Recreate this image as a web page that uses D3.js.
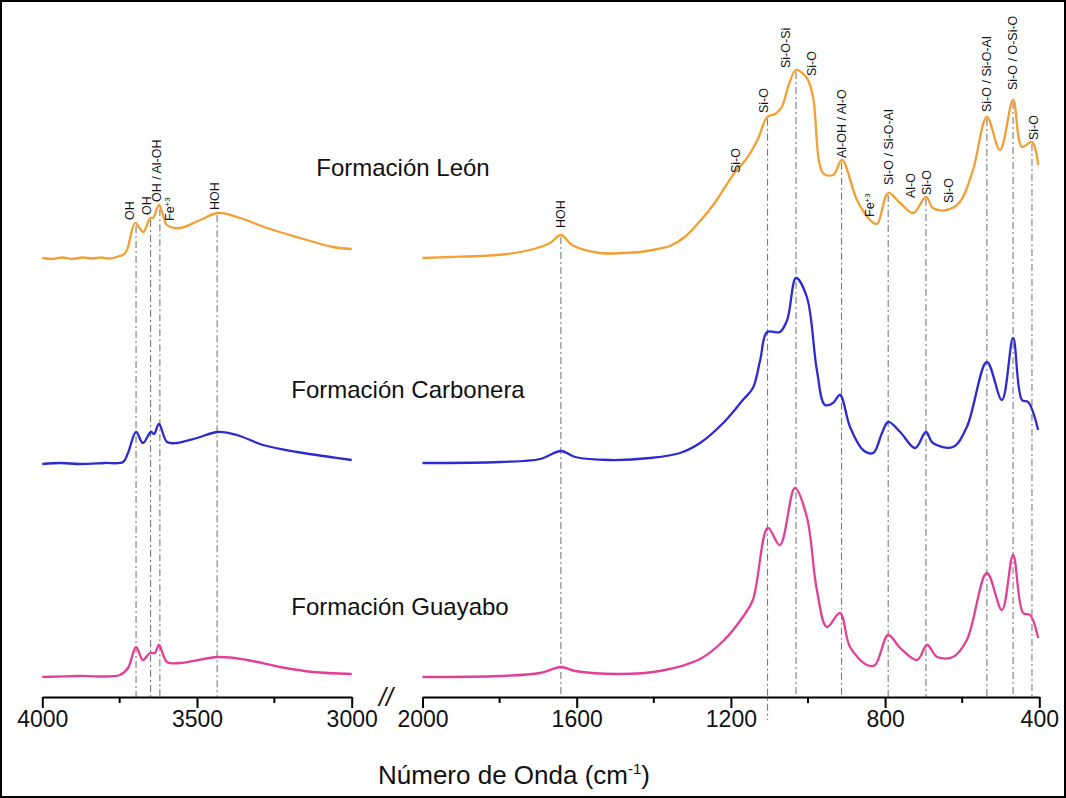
<!DOCTYPE html>
<html>
<head>
<meta charset="utf-8">
<script src="https://cdn.jsdelivr.net/npm/d3@7"></script>
<style>
  body { margin: 0; background: #fff; }
  svg { display: block; }
  text { font-family: "Liberation Sans", Arial, sans-serif; fill: #111; }
</style>
</head>
<body>
<div id="chart"></div>
<script>
// wavenumber (cm-1), absorbance (a.u., offset per sample)
const leonLeft = [[4000,439],[3965,438],[3935,439.5],[3905,438],[3870,439.5],[3840,438.5],[3810,439.5],[3780,438.5],[3750,441],[3735,443],[3724,449],[3700,474],[3674,465],[3651,479],[3642,479],[3623,492],[3610,482],[3597,472],[3555,469],[3490,477],[3432,484],[3361,479],[3274,469],[3167,459],[3061,450],[3000,448]];
const leonRight = [[2000,439],[1930,440],[1851,441],[1780,443],[1721,447],[1669,454],[1641,462],[1612,452],[1540,444],[1480,444],[1436,445],[1390,448],[1358,451],[1320,460],[1280,476],[1246,492],[1215,510],[1189,525],[1160,538],[1130,558],[1106,580],[1085,583],[1068,590],[1050,612],[1031,627],[1003,619],[987,600],[961,524],[935,522],[912,537],[873,497],[839,477],[821,473],[792,504],[761,494],[727,484],[694,500],[676,489],[640,487],[606,495],[572,527],[536,580],[502,547],[468,597],[445,550],[419,555],[403,532]];

const carboneraLeft = [[4000,233],[3940,234],[3878,233],[3800,234],[3739,235],[3723,244],[3697,265],[3675,254],[3649,265],[3639,263],[3623,273],[3597,255],[3565,254],[3500,259],[3432,265],[3371,262],[3287,252],[3177,245],[3070,240],[3000,237]];
const carboneraRight = [[2000,234],[1799,235],[1695,238],[1641,246],[1604,240],[1514,237],[1410,239],[1332,244],[1280,254],[1220,274],[1169,297],[1143,309],[1124,337],[1106,365],[1073,365],[1054,377],[1031,419],[1003,400],[977,327],[956,292],[935,294],[917,302],[891,270],[857,247],[831,244],[808,264],[792,275],[761,265],[722,249],[694,265],[676,254],[624,250],[588,270],[536,335],[497,297],[468,359],[445,297],[429,295],[403,267]];

const guayaboLeft = [[4000,20],[3880,21],[3749,22],[3723,29],[3697,50],[3675,37],[3652,44],[3636,44],[3623,52],[3597,35],[3555,34],[3432,40],[3338,37],[3232,30],[3125,25],[3000,23]];
const guayaboRight = [[2000,20],[1799,21],[1695,24],[1641,30],[1604,26],[1488,23],[1384,26],[1280,38],[1220,56],[1169,80],[1143,97],[1104,169],[1073,152],[1034,209],[1003,180],[977,107],[951,70],[917,84],[891,50],[847,32],[826,32],[792,62],[761,49],[717,37],[691,52],[665,40],[624,40],[588,57],[536,124],[497,87],[468,142],[442,84],[424,82],[403,59]];

const sampleNames = ["Formación León", "Formación Carbonera", "Formación Guayabo"];
const sampleColors = ["#F2A034", "#2B2BCF", "#E23F98"];

const leftTicks = [4000, 3500, 3000];
const leftMinor = [3750, 3250];
const rightTicks = [2000, 1600, 1200, 800, 400];
const rightMinor = [1800, 1400, 1000, 600];

// band positions marked by dash-dot lines
const bandsLeft = [3697, 3650, 3620, 3435];
const bandsRight = [1641, 1105, 1031, 913, 792, 694, 536, 468, 419];

// band assignments: [wavenumber, absorbance level of label start, text, superscript]
const notesLeft = [[3717,477,"OH",""],[3662,482,"OH",""],[3629,495,"OH / Al-OH",""],[3587,476,"Fe","+3"],[3442,487,"HOH",""]];
const notesRight = [[1641,469,"HOH",""],[1189,524,"Si-O",""],[1114,584,"Si-O",""],[1057,629,"Si-O-Si",""],[990,621,"Si-O",""],[912,539,"Al-OH / Al-O",""],[839,480,"Fe","+3"],[792,512,"Si-O / Si-O-Al",""],[733,499,"Al-O",""],[691,502,"Si-O",""],[636,494,"Si-O",""],[536,585,"Si-O / Si-O-Al",""],[469,607,"Si-O / O-Si-O",""],[416,557,"Si-O",""]];

const W = 1066, H = 798;
const svg = d3.select("#chart").append("svg").attr("width", W).attr("height", H);

svg.append("rect").attr("x", 1).attr("y", 1).attr("width", W - 2).attr("height", H - 2)
  .attr("fill", "white").attr("stroke", "black").attr("stroke-width", 2);

const xLeft = d3.scaleLinear().domain([4000, 3000]).range([42.3, 351.7]);
const xRight = d3.scaleLinear().domain([2000, 400]).range([422.5, 1039.3]);
const y = d3.scaleLinear().domain([0, 680]).range([697, 17]);

function interp(series, w) {
  for (let i = 0; i < series.length - 1; i++) {
    const a = series[i], b = series[i + 1];
    if (w <= a[0] && w >= b[0]) {
      const t = (a[0] - w) / (a[0] - b[0]);
      return a[1] + t * (b[1] - a[1]);
    }
  }
  return series[series.length - 1][1];
}

// dash-dot guide lines, from the León peak down to the axis
const guides = svg.append("g");
function drawGuides(bands, x, ref) {
  guides.selectAll(null).data(bands).enter().append("line")
    .attr("x1", d => x(d)).attr("x2", d => x(d))
    .attr("y1", d => y(interp(ref, d)) + 2)
    .attr("y2", d => d === 1105 ? 720 : y(0))
    .attr("stroke", "#7a7a7a").attr("stroke-width", 1.1)
    .attr("stroke-dasharray", "7,3,2,3");
}
drawGuides(bandsLeft, xLeft, leonLeft);
drawGuides(bandsRight, xRight, leonRight);

// spectra
const panels = [
  [xLeft, [leonLeft, carboneraLeft, guayaboLeft]],
  [xRight, [leonRight, carboneraRight, guayaboRight]]
];
panels.forEach(([x, list]) => {
  const line = d3.line().x(d => x(d[0])).y(d => y(d[1])).curve(d3.curveCatmullRom.alpha(0.5));
  list.forEach((s, i) => {
    svg.append("path").datum(s).attr("d", line)
      .attr("fill", "none").attr("stroke", sampleColors[i])
      .attr("stroke-width", 2.3).attr("stroke-linejoin", "round");
  });
});

// axes
function drawAxis(x, ticks, minor) {
  const g = svg.append("g").attr("transform", `translate(0,${y(0)})`);
  g.call(d3.axisBottom(x).tickValues(ticks).tickSize(11).tickSizeOuter(0).tickPadding(3).tickFormat(d3.format("d")));
  g.selectAll(null).data(minor).enter().append("line")
    .attr("x1", d => x(d)).attr("x2", d => x(d)).attr("y1", 0).attr("y2", 6)
    .attr("stroke", "black").attr("stroke-width", 2);
  g.select(".domain").attr("stroke-width", 2.2);
  g.selectAll(".tick line").attr("stroke-width", 2);
  g.selectAll(".tick text").attr("font-size", 23).attr("fill", "#111")
    .attr("font-family", "'Liberation Sans', Arial, sans-serif");
}
drawAxis(xLeft, leftTicks, leftMinor);
drawAxis(xRight, rightTicks, rightMinor);

// axis break mark
svg.append("text").attr("x", 386).attr("y", 706).attr("text-anchor", "middle")
  .attr("font-size", 25).attr("font-style", "italic").text("//");

// axis title
const title = svg.append("text").attr("x", 514).attr("y", 784).attr("text-anchor", "middle").attr("font-size", 26);
title.append("tspan").text("Número de Onda (cm");
title.append("tspan").attr("dy", -10).attr("font-size", 15).text("-1");
title.append("tspan").attr("dy", 10).text(")");

// sample names
const namePos = [[403, 176], [408, 398], [400, 615]];
sampleNames.forEach((n, i) => {
  svg.append("text").attr("x", namePos[i][0]).attr("y", namePos[i][1])
    .attr("text-anchor", "middle").attr("font-size", 24).text(n);
});

// band labels (rotated)
function drawNotes(notes, x) {
  notes.forEach(([w, v, t, sup]) => {
    const tx = svg.append("text")
      .attr("transform", `translate(${x(w)},${y(v)}) rotate(-90)`)
      .attr("dy", "0.35em").attr("font-size", 12.5).attr("fill", "#222").text(t);
    if (sup) tx.append("tspan").attr("dy", "-0.5em").attr("font-size", 8).text(sup);
  });
}
drawNotes(notesLeft, xLeft);
drawNotes(notesRight, xRight);
</script>
</body>
</html>
